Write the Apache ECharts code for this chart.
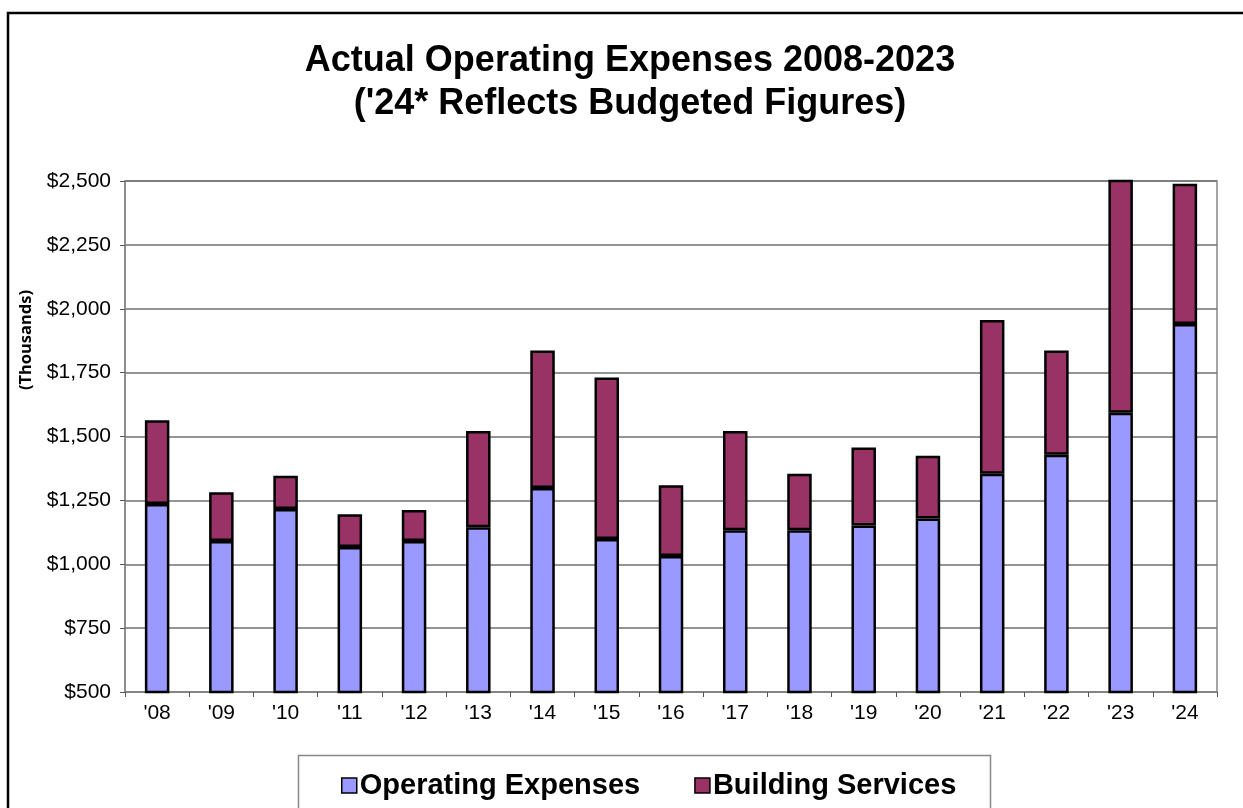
<!DOCTYPE html>
<html>
<head>
<meta charset="utf-8">
<script src="https://cdn.jsdelivr.net/npm/echarts@6/dist/echarts.min.js"></script>
<style>
html,body{margin:0;padding:0;background:#fff;}
#chart{width:1243px;height:808px;}
</style>
</head>
<body>
<div id="chart"></div>
<script>
const categories = ["'08","'09","'10","'11","'12","'13","'14","'15","'16","'17","'18","'19","'20","'21","'22","'23","'24"];
const operatingExpenses = [1236,1091,1216,1068,1091,1145,1298,1099,1032,1133,1133,1152,1179,1354,1429,1593,1940];
const buildingServices = [328,191,130,128,121,377,539,632,277,389,221,305,246,602,408,1000,549];
const yTicks = [500,750,1000,1250,1500,1750,2000,2250,2500];

const chart = echarts.init(document.getElementById('chart'), null, {renderer:'canvas'});
const fmt = v => '$' + v.toLocaleString('en-US');
chart.setOption({
  animation:false,
  backgroundColor:'#fff',
  title:{
    text:"Actual Operating Expenses 2008-2023\n('24* Reflects Budgeted Figures)",
    left:625, textAlign:'center', top:35,
    textStyle:{fontFamily:'Liberation Sans, Arial, sans-serif', fontWeight:'bold', fontSize:36, lineHeight:43, color:'#000'}
  },
  graphic:[
    {type:'rect', shape:{x:8, y:13, width:1300, height:900}, style:{fill:'none', stroke:'#000', lineWidth:2.5}, silent:true},
    {type:'rect', shape:{x:298.5, y:755.5, width:692, height:90}, style:{fill:'#fff', stroke:'#888', lineWidth:1.5}, silent:true, z:-1},
    {type:'text', x:26, y:340, rotation:Math.PI/2, style:{text:'(Thousands)', fontFamily:'Noto Sans, Open Sans, sans-serif', fontWeight:'bold', fontSize:16.5, fill:'#000', align:'center', verticalAlign:'middle'}}
  ],
  legend:{
    left:336, top:766, itemGap:54, itemWidth:15, itemHeight:15, icon:'rect',
    textStyle:{fontFamily:'Liberation Sans, Arial, sans-serif', fontWeight:'bold', fontSize:29, color:'#000', padding:[0,0,0,-2]},
    itemStyle:{borderColor:'#000', borderWidth:1.5},
    data:['Operating Expenses','Building Services']
  },
  grid:{left:125, right:26, top:181, bottom:116, show:true, borderColor:'#888', borderWidth:1.5, containLabel:false},
  xAxis:{
    type:'category', data:categories, boundaryGap:true,
    axisLine:{lineStyle:{color:'#888', width:1.5}},
    axisTick:{show:true, length:5, lineStyle:{color:'#555'}},
    axisLabel:{fontFamily:'Liberation Sans, Arial, sans-serif', fontSize:21, color:'#000', margin:11}
  },
  yAxis:{
    type:'value', min:500, max:2500, interval:250,
    axisLine:{show:true, lineStyle:{color:'#888', width:1.5}},
    axisTick:{show:true, length:5, lineStyle:{color:'#555'}},
    splitLine:{lineStyle:{color:'#707070', width:1.5}},
    axisLabel:{fontFamily:'Liberation Sans, Arial, sans-serif', fontSize:21, color:'#000', margin:14, formatter:v=>fmt(v)}
  },
  series:[
    {name:'Operating Expenses', type:'bar', stack:'a', data:operatingExpenses, barWidth:24.5, clip:true,
     itemStyle:{color:'#9999FF', borderColor:'#000', borderWidth:2.5}},
    {name:'Building Services', type:'bar', stack:'a', data:buildingServices, barWidth:24.5, clip:true,
     itemStyle:{color:'#993366', borderColor:'#000', borderWidth:2.5}}
  ]
});
</script>
</body>
</html>
